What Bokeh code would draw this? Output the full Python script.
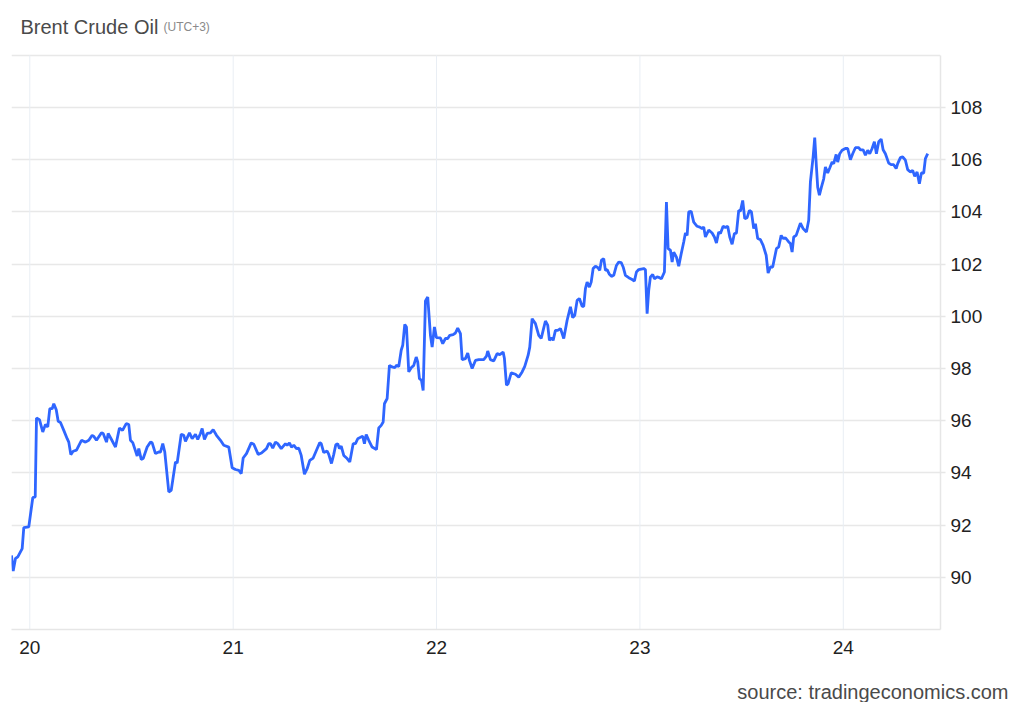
from bokeh.plotting import figure
from bokeh.models import Range1d, FixedTicker, Label
from bokeh.layouts import column
from bokeh.embed import file_html
from bokeh.resources import INLINE

# ---- data (hours after 20th 00:00, UTC+3) ----
hours = [
    -2.16, -1.96, -1.69, -1.42, -0.90, -0.71, -0.12, 0.35, 0.64, 0.79,
    1.14, 1.53, 1.85, 2.12, 2.36, 2.64, 2.83, 3.12, 3.35, 3.62,
    4.01, 4.41, 4.60, 4.84, 5.12, 5.51, 6.10, 6.57, 6.96, 7.36,
    7.55, 7.87, 8.46, 8.66, 9.05, 9.25, 9.64, 10.11, 10.58, 10.94,
    11.38, 11.68, 11.88, 12.15, 12.67, 12.86, 13.15, 13.38, 13.85, 14.24,
    14.44, 14.83, 15.22, 15.42, 15.69, 15.93, 16.40, 16.69, 17.19, 17.39,
    17.87, 18.17, 18.37, 18.84, 19.16, 19.55, 19.82, 20.14, 20.34, 20.61,
    20.93, 21.32, 21.64, 22.03, 22.50, 22.89, 23.48, 23.88, 24.27, 24.66,
    24.95, 25.18, 25.57, 26.13, 26.43, 26.95, 27.34, 27.93, 28.20, 28.40,
    28.67, 28.99, 29.26, 29.67, 30.17, 30.37, 30.64, 30.88, 31.15, 31.47,
    31.74, 32.03, 32.41, 32.73, 33.04, 33.44, 33.83, 34.22, 34.39, 34.69,
    35.09, 35.28, 35.60, 35.87, 36.11, 36.34, 36.54, 36.75, 37.05, 37.45,
    37.76, 38.16, 38.43, 38.70, 39.11, 39.29, 39.49, 39.70, 40.00, 40.40,
    40.91, 41.18, 41.47, 41.70, 41.85, 42.17, 42.44, 42.76, 43.07, 43.27,
    43.54, 43.83, 44.01, 44.25, 44.45, 44.72, 45.01, 45.31, 45.60, 45.78,
    45.98, 46.22, 46.42, 46.69, 46.96, 47.28, 47.48, 47.75, 47.99, 48.46,
    48.73, 49.05, 49.32, 49.56, 49.96, 50.23, 50.50, 50.82, 51.02, 51.41,
    51.68, 51.88, 52.20, 52.59, 52.98, 53.57, 53.89, 54.04, 54.36, 54.75,
    55.15, 55.46, 55.86, 56.01, 56.25, 56.45, 56.81, 57.31, 57.70, 58.10,
    58.41, 58.81, 59.00, 59.28, 59.67, 60.06, 60.35, 60.58, 60.85, 61.12,
    61.32, 61.56, 61.76, 62.03, 62.30, 62.62, 62.82, 63.01, 63.41, 63.80,
    64.07, 64.31, 64.59, 64.86, 65.18, 65.37, 65.57, 65.77, 66.04, 66.25,
    66.48, 66.75, 67.02, 67.26, 67.46, 67.73, 67.93, 68.13, 68.40, 68.64,
    68.91, 69.23, 69.50, 69.79, 70.02, 70.29, 70.68, 71.08, 71.35, 71.59,
    71.86, 72.45, 72.65, 72.85, 73.04, 73.24, 73.51, 73.71, 74.03, 74.30,
    74.54, 74.89, 75.13, 75.33, 75.60, 75.80, 75.99, 76.31, 76.58, 76.86,
    77.17, 77.37, 77.57, 77.76, 78.05, 78.35, 78.75, 79.06, 79.34, 79.53,
    79.73, 80.12, 80.52, 80.79, 81.03, 81.30, 81.50, 81.82, 82.09, 82.36,
    82.60, 82.88, 83.15, 83.39, 83.66, 83.86, 84.13, 84.37, 84.65, 84.92,
    85.16, 85.43, 85.63, 85.90, 86.22, 86.54, 86.90, 87.13, 87.40, 87.67,
    88.11, 88.38, 88.67, 88.90, 89.17, 89.56, 89.76, 89.96, 90.15, 90.44,
    90.94, 91.26, 91.65, 91.92, 92.12, 92.44, 92.63, 92.83, 92.98, 93.18,
    93.42, 93.69, 93.89, 94.16, 94.40, 94.68, 94.87, 95.16, 95.34, 95.58,
    95.86, 96.25, 96.52, 96.84, 97.11, 97.43, 97.82, 98.02, 98.34, 98.61,
    98.88, 99.12, 99.40, 99.67, 99.91, 100.18, 100.47, 100.70, 100.97, 101.36,
    101.64, 101.95, 102.24, 102.42, 102.74, 103.01, 103.33, 103.60, 103.92, 104.19,
    104.43, 104.71, 104.98, 105.22, 105.49, 105.69, 105.96,
]
prices = [
    90.84, 90.24, 90.72, 90.78, 91.10, 91.90, 91.93, 93.05, 93.08, 96.10,
    96.04, 95.57, 95.86, 95.76, 96.46, 96.46, 96.65, 96.42, 95.98, 95.93,
    95.63, 95.31, 95.18, 94.70, 94.83, 94.87, 95.25, 95.18, 95.25, 95.44,
    95.40, 95.25, 95.54, 95.51, 95.18, 95.51, 95.28, 94.99, 95.72, 95.63,
    95.89, 95.85, 95.25, 95.16, 94.65, 94.93, 94.52, 94.55, 94.99, 95.18,
    95.15, 94.74, 94.80, 94.80, 95.12, 94.80, 93.27, 93.33, 94.42, 94.38,
    95.48, 95.44, 95.21, 95.53, 95.31, 95.48, 95.28, 95.51, 95.70, 95.28,
    95.51, 95.53, 95.66, 95.44, 95.25, 95.06, 94.99, 94.20, 94.13, 94.10,
    93.97, 94.57, 94.74, 95.15, 95.10, 94.71, 94.76, 94.93, 95.12, 95.12,
    94.95, 95.18, 95.12, 94.93, 95.12, 95.06, 95.15, 94.99, 95.06, 94.93,
    94.95, 94.67, 93.95, 94.16, 94.48, 94.57, 94.87, 95.16, 95.12, 94.78,
    94.84, 94.71, 94.36, 94.71, 95.08, 95.12, 94.93, 95.03, 94.67, 94.55,
    94.42, 95.12, 95.12, 95.31, 95.38, 95.40, 95.12, 95.47, 95.25, 94.99,
    94.89, 95.72, 95.82, 95.95, 96.65, 96.85, 98.12, 98.06, 98.03, 98.12,
    98.08, 98.70, 98.89, 99.69, 99.59, 97.87, 98.03, 98.12, 98.44, 98.25,
    97.61, 97.55, 97.16, 100.59, 100.74, 99.27, 98.82, 99.59, 99.18, 99.17,
    98.95, 99.15, 99.15, 99.27, 99.30, 99.36, 99.55, 99.34, 98.34, 98.38,
    98.59, 98.31, 98.00, 98.31, 98.34, 98.34, 98.47, 98.67, 98.34, 98.29,
    98.57, 98.53, 98.63, 98.38, 97.36, 97.42, 97.83, 97.78, 97.67, 97.87,
    98.08, 98.51, 98.82, 99.91, 99.72, 99.27, 99.15, 99.46, 99.82, 99.66,
    99.08, 99.18, 99.08, 99.46, 99.46, 99.53, 99.34, 99.15, 99.85, 100.36,
    99.95, 100.04, 100.61, 100.68, 100.38, 100.38, 101.06, 101.31, 101.12, 101.31,
    101.83, 101.92, 101.87, 101.76, 102.15, 102.21, 101.76, 101.79, 101.61, 101.53,
    101.57, 101.95, 102.08, 102.06, 101.89, 101.57, 101.48, 101.41, 101.35, 101.70,
    101.79, 101.83, 101.79, 100.10, 101.00, 101.51, 101.60, 101.44, 101.51, 101.48,
    101.44, 101.70, 104.38, 102.59, 102.53, 102.08, 102.46, 102.27, 101.92, 102.38,
    102.85, 103.19, 103.10, 104.00, 104.02, 103.61, 103.45, 103.42, 103.36, 103.42,
    103.04, 103.30, 103.19, 103.04, 102.81, 103.23, 103.17, 103.45, 103.40, 103.45,
    103.04, 102.76, 103.17, 103.19, 104.06, 104.03, 104.44, 103.74, 103.78, 104.06,
    104.00, 103.36, 103.55, 102.98, 102.94, 102.72, 102.34, 101.66, 101.89, 101.89,
    102.59, 102.66, 103.10, 102.98, 103.01, 102.85, 102.79, 102.46, 103.04, 103.10,
    103.57, 103.36, 103.23, 103.68, 105.15, 106.11, 106.85, 105.72, 104.95, 104.64,
    104.95, 105.27, 105.72, 105.49, 105.68, 105.91, 105.85, 106.20, 105.91, 106.23,
    106.36, 106.43, 106.43, 106.00, 106.23, 106.46, 106.46, 106.38, 106.38, 106.17,
    106.36, 106.23, 106.43, 106.69, 106.23, 106.69, 106.79, 106.38, 106.23, 105.87,
    105.81, 105.81, 105.66, 105.85, 106.08, 106.11, 105.98, 105.62, 105.53, 105.59,
    105.36, 105.53, 105.08, 105.49, 105.49, 106.04, 106.23,
]
day_ticks = [20, 21, 22, 23, 24]
day_labels = ["20", "21", "22", "23", "24"]
price_ticks = [90, 92, 94, 96, 98, 100, 102, 104, 106, 108]
grid_prices = [90, 92, 94, 96, 98, 100, 102, 104, 106, 108, 110]
price_floor, price_ceiling = 88, 110
title_text = "Brent Crude Oil"
tz_text = "(UTC+3)"
source_text = "source: tradingeconomics.com"

FONT = "Liberation Sans"

days = [day_ticks[0] + h / 24.0 for h in hours]

# main chart: frame reaches the top of the canvas so the header texts sit inside it
p = figure(width=1016, height=680, output_backend="svg", toolbar_location=None,
           x_range=Range1d(19.91, 24.478), y_range=Range1d(price_floor, 112.1),
           y_axis_location="right",
           min_border_left=11, min_border_right=76, min_border_top=0, min_border_bottom=51)
p.frame_align = False
p.outline_line_color = None
p.background_fill_color = "white"
p.border_fill_color = "white"

# grids
p.xgrid.visible = False
p.ygrid.ticker = FixedTicker(ticks=grid_prices)
p.ygrid.grid_line_color = "#e8e8e8"
p.ygrid.grid_line_width = 1.5
p.segment(x0=day_ticks, y0=[price_floor] * len(day_ticks),
          x1=day_ticks, y1=[price_ceiling] * len(day_ticks),
          line_color="#e9eef4", line_width=1)

# x axis
xa = p.xaxis[0]
xa.ticker = FixedTicker(ticks=day_ticks)
xa.major_label_overrides = {d: l for d, l in zip(day_ticks, day_labels)}
xa.axis_line_color = "#e6e6e6"
xa.axis_line_width = 1.5
xa.major_tick_line_color = None
xa.minor_tick_line_color = None
xa.major_label_standoff = 5
xa.major_label_text_font = FONT
xa.major_label_text_font_size = "19px"
xa.major_label_text_color = "#222222"

# y axis (right)
ya = p.yaxis[0]
ya.ticker = FixedTicker(ticks=price_ticks)
ya.bounds = (price_floor, price_ceiling)
ya.axis_line_color = "#e6e6e6"
ya.axis_line_width = 1.5
ya.major_tick_line_color = "#e6e6e6"
ya.major_tick_line_width = 1.5
ya.major_tick_in = 0
ya.major_tick_out = 5
ya.minor_tick_line_color = None
ya.major_label_standoff = 5
ya.major_label_text_font = FONT
ya.major_label_text_font_size = "19px"
ya.major_label_text_color = "#222222"

p.line(days, prices, line_color="#2f66ff", line_width=2.8)

p.add_layout(Label(x=9, y=603, x_units="screen", y_units="screen", text=title_text,
                   text_font=FONT, text_font_size="20px", text_color="#4a4a4a",
                   text_baseline="alphabetic"))
p.add_layout(Label(x=152, y=603, x_units="screen", y_units="screen", text=tz_text,
                   text_font=FONT, text_font_size="12px", text_color="#8a8a8a",
                   text_baseline="alphabetic"))

# footer strip carrying the source note (its frame spans the whole strip)
f = figure(width=1016, height=22, output_backend="svg", toolbar_location=None,
           x_range=Range1d(0, 1), y_range=Range1d(0, 1),
           x_axis_location=None, y_axis_location=None,
           min_border_left=0, min_border_right=0, min_border_top=0, min_border_bottom=0)
f.frame_align = False
f.outline_line_color = None
f.grid.visible = False
f.background_fill_color = "white"
f.border_fill_color = "white"
f.add_layout(Label(x=1008, y=11, x_units="screen", y_units="screen", text=source_text,
                   text_font=FONT, text_font_size="20px", text_color="#4a4a4a",
                   text_align="right", text_baseline="alphabetic"))

layout = column(p, f, spacing=0)
open("out.html", "w").write(file_html(layout, INLINE))
